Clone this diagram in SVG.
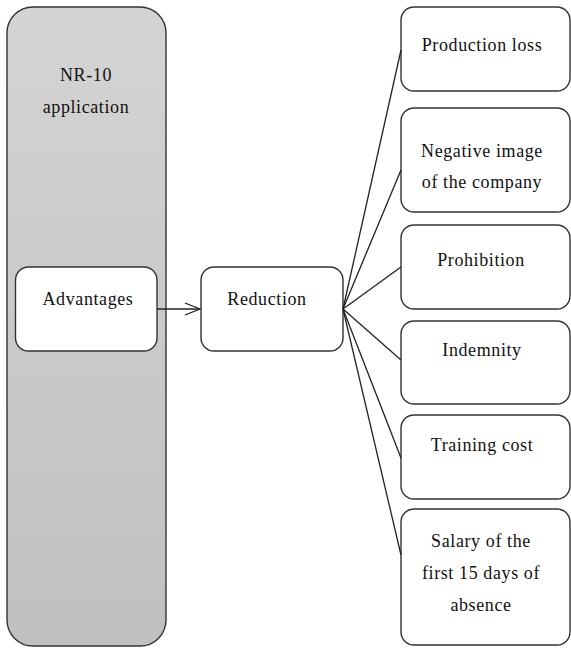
<svg xmlns="http://www.w3.org/2000/svg" width="571" height="648" viewBox="0 0 571 648">
<defs>
<linearGradient id="g" x1="0" y1="0" x2="0" y2="1">
<stop offset="0" stop-color="#d4d4d4"/>
<stop offset="1" stop-color="#c0c0c0"/>
</linearGradient>
<marker id="arr" markerWidth="18" markerHeight="16" refX="16" refY="8" orient="auto" markerUnits="userSpaceOnUse">
<path d="M1,2 L16,8 L1,14" fill="none" stroke="#222" stroke-width="1.3"/>
</marker>
<style>
.box{fill:#fff;stroke:#333;stroke-width:1.4}
.t{font-family:"Liberation Serif","Times New Roman",serif;font-size:18px;letter-spacing:0.6px;fill:#111;text-anchor:middle}
.c{fill:none;stroke:#222;stroke-width:1.3}
</style>
</defs>
<g id="nr10">
<rect x="7" y="7" width="159" height="639" rx="26" ry="26" fill="url(#g)" stroke="#333" stroke-width="1.4"/>
<text class="t" x="86" y="81">NR-10</text>
<text class="t" x="86" y="113">application</text>
</g>
<g id="advantages">
<rect class="box" x="15.5" y="267" width="141.5" height="84" rx="13"/>
<text class="t" x="88" y="305">Advantages</text>
</g>
<g id="reduction">
<rect class="box" x="201" y="267" width="142" height="84" rx="13"/>
<text class="t" x="267" y="305">Reduction</text>
</g>
<g id="production">
<rect class="box" x="401" y="7" width="169" height="84" rx="13"/>
<text class="t" x="482" y="51">Production loss</text>
</g>
<g id="negative">
<rect class="box" x="401" y="108" width="169" height="104" rx="13"/>
<text class="t" x="482" y="157">Negative image</text>
<text class="t" x="482" y="188">of the company</text>
</g>
<g id="prohibition">
<rect class="box" x="401" y="225" width="169" height="84" rx="13"/>
<text class="t" x="481" y="266">Prohibition</text>
</g>
<g id="indemnity">
<rect class="box" x="401" y="321" width="169" height="83" rx="13"/>
<text class="t" x="482" y="356">Indemnity</text>
</g>
<g id="training">
<rect class="box" x="401" y="415" width="169" height="84" rx="13"/>
<text class="t" x="482" y="451">Training cost</text>
</g>
<g id="salary">
<rect class="box" x="401" y="509" width="169" height="136" rx="13"/>
<text class="t" x="481" y="547">Salary of the</text>
<text class="t" x="481" y="579">first 15 days of</text>
<text class="t" x="481" y="611">absence</text>
</g>
<g id="connectors">
<line class="c" x1="157" y1="309" x2="200" y2="309" marker-end="url(#arr)"/>
<line class="c" x1="343" y1="309" x2="401" y2="50"/>
<line class="c" x1="343" y1="309" x2="401" y2="170"/>
<line class="c" x1="343" y1="309" x2="401" y2="267"/>
<line class="c" x1="343" y1="309" x2="401" y2="360"/>
<line class="c" x1="343" y1="309" x2="401" y2="458"/>
<line class="c" x1="343" y1="309" x2="401" y2="555"/>
</g>
</svg>
